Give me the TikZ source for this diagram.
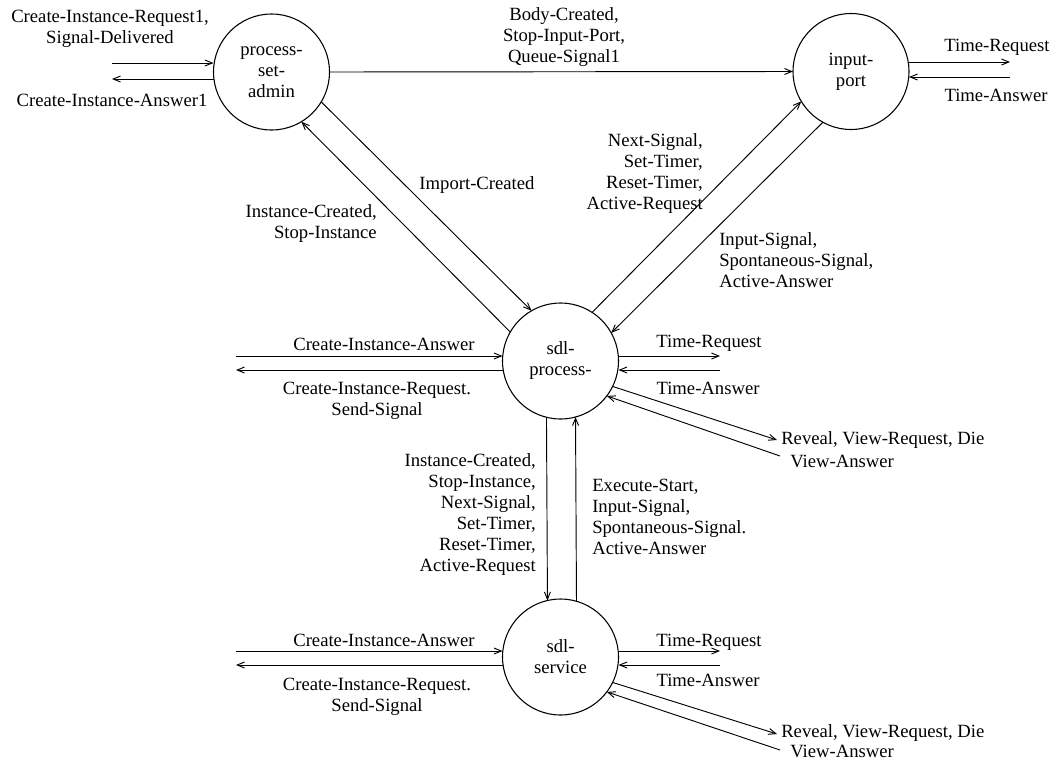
\documentclass[tikz,border=0pt]{standalone}
\usepackage{fontspec}
\setmainfont{Liberation Serif}
\usetikzlibrary{arrows.meta,calc}
\newcommand\lblfont{\fontsize{14}{15.75}\selectfont}
\begin{document}
\begin{tikzpicture}[x=0.75pt,y=-0.75pt,
  proc/.style={circle,draw,line width=0.8pt,minimum size=87pt,inner sep=0pt,outer sep=0pt,align=center,font=\lblfont},
  lbl/.style={inner sep=0pt,font=\lblfont},
  conn/.style={line width=0.7pt,-{Straight Barb[length=5.5pt,width=4.5pt]}},
]
\useasboundingbox (0,0) rectangle (1057,761);

% processes
\node[proc] (psa) at (271.5,72) {process-\\set-\\admin};
\node[proc] (ip) at (851,71.5) {input-\\port};
\node[proc] (sp) at (560.5,361) {sdl-\\process-};
\node[proc] (ss) at (560.5,657) {sdl-\\service};

% free ends
\coordinate (psaL1) at (112,63);
\coordinate (psaL2) at (112,79);
\coordinate (ipR1) at (1010,62);
\coordinate (ipR2) at (1010,77);
\coordinate (spL1) at (236,356);
\coordinate (spL2) at (236,370);
\coordinate (spR1) at (720,356);
\coordinate (spR2) at (720,370);
\coordinate (spD1) at (777,440);
\coordinate (spD2) at (780,456);
\coordinate (ssL1) at (236,651);
\coordinate (ssL2) at (236,665);
\coordinate (ssR1) at (720,651);
\coordinate (ssR2) at (720,665);
\coordinate (ssD1) at (777,734);
\coordinate (ssD2) at (780,750);

% process-set-admin
\draw[conn] (psaL1) -- (psaL1 -| psa.west);
\draw[conn] (psaL2 -| psa.west) -- (psaL2);
\draw[conn] (psa.east) -- (ip.west);
\draw[conn] (psa.-31) -- (sp.120);
\draw[conn] (sp.150) -- (psa.-59);

% input-port
\draw[conn] (ipR1 -| ip.east) -- (ipR1);
\draw[conn] (ipR2) -- (ipR2 -| ip.east);
\draw[conn] (sp.57) -- (ip.211);
\draw[conn] (ip.241) -- (sp.29);

% sdl-process
\draw[conn] (spL1) -- (spL1 -| sp.west);
\draw[conn] (spL2 -| sp.west) -- (spL2);
\draw[conn] (spR1 -| sp.east) -- (spR1);
\draw[conn] (spR2) -- (spR2 -| sp.east);
\draw[conn] (sp.-26) -- (spD1);
\draw[conn] (spD2) -- (sp.-37);
\draw[conn] (sp.256.5) -- (ss.103.5);
\draw[conn] (ss.74.5) -- (sp.285.5);

% sdl-service
\draw[conn] (ssL1) -- (ssL1 -| ss.west);
\draw[conn] (ssL2 -| ss.west) -- (ssL2);
\draw[conn] (ssR1 -| ss.east) -- (ssR1);
\draw[conn] (ssR2) -- (ssR2 -| ss.east);
\draw[conn] (ss.-26) -- (ssD1);
\draw[conn] (ssD2) -- (ss.-37);

% labels
\node[lbl,align=center] (t1) at (110,29) {Create-Instance-Request1,\\Signal-Delivered};
\node[lbl] (t2) at (112,100) {Create-Instance-Answer1};
\node[lbl,align=center] (t3) at (564,37.5) {Body-Created,\\Stop-Input-Port,\\Queue-Signal1};
\node[lbl] (t4) at (997,47) {Time-Request};
\node[lbl] (t5) at (996,95) {Time-Answer};
\node[lbl] (t6) at (477,185) {Import-Created};
\node[lbl,align=right,anchor=east] (t7) at (377,224) {Instance-Created,\\Stop-Instance};
\node[lbl,align=right,anchor=east] (t8) at (703,173.5) {Next-Signal,\\Set-Timer,\\Reset-Timer,\\Active-Request};
\node[lbl,align=left,anchor=west] (t9) at (719,260) {Input-Signal,\\Spontaneous-Signal,\\Active-Answer};
\node[lbl] (t10) at (384,344) {Create-Instance-Answer};
\node[lbl,align=center] (t11) at (377,401) {Create-Instance-Request.\\Send-Signal};
\node[lbl] (t12) at (709,343) {Time-Request};
\node[lbl] (t13) at (708,388) {Time-Answer};
\node[lbl,anchor=west] (t14) at (781,440) {Reveal, View-Request, Die};
\node[lbl,anchor=west] (t15) at (790,461) {View-Answer};
\node[lbl,align=right,anchor=east] (t16) at (536,515) {Instance-Created,\\Stop-Instance,\\Next-Signal,\\Set-Timer,\\Reset-Timer,\\Active-Request};
\node[lbl,align=left,anchor=west] (t17) at (592,517) {Execute-Start,\\Input-Signal,\\Spontaneous-Signal.\\Active-Answer};
\node[lbl] (t18) at (384,640) {Create-Instance-Answer};
\node[lbl,align=center] (t19) at (377,697) {Create-Instance-Request.\\Send-Signal};
\node[lbl] (t20) at (709,642) {Time-Request};
\node[lbl] (t21) at (708,680) {Time-Answer};
\node[lbl,anchor=west] (t22) at (781,733) {Reveal, View-Request, Die};
\node[lbl,anchor=west] (t23) at (790,751) {View-Answer};
\end{tikzpicture}
\end{document}
